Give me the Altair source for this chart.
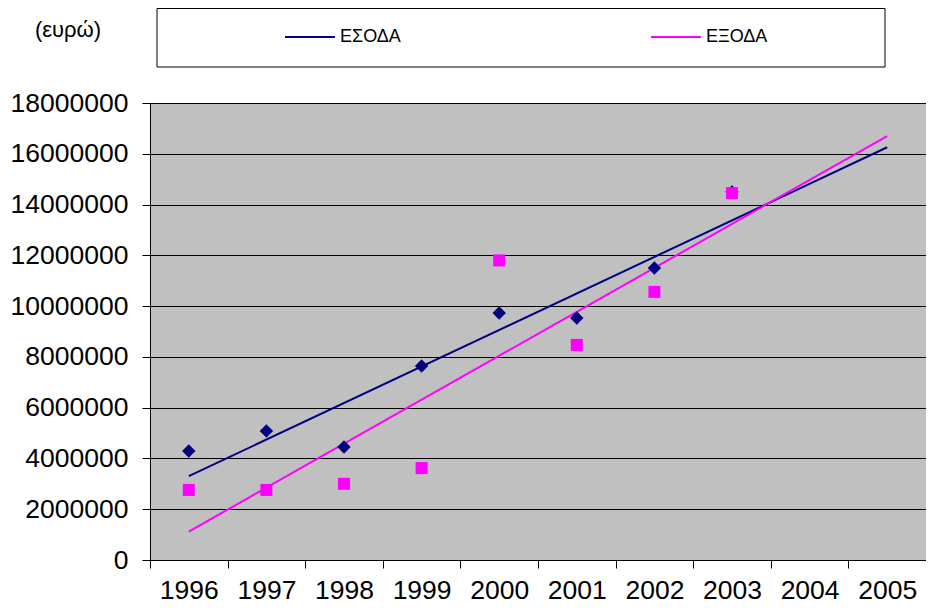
import altair as alt
import pandas as pd

years = [1996, 1997, 1998, 1999, 2000, 2001, 2002, 2003]
esoda = [4290000, 5080000, 4450000, 7640000, 9730000, 9530000, 11500000, 14500000]
exoda = [2760000, 2760000, 3000000, 3620000, 11800000, 8470000, 10560000, 14450000]
series_names = ["ΕΣΟΔΑ", "ΕΞΟΔΑ"]
series_colors = ["#000080", "#FF00FF"]
x_ticks = [1995.5 + i for i in range(11)]
y_ticks = [i * 2000000 for i in range(10)]

df = pd.DataFrame(
    {"year": years * 2,
     "value": esoda + exoda,
     "series": [series_names[0]] * len(years) + [series_names[1]] * len(years)}
)

FONT = "Liberation Sans"
W = 776
BAND = W / 10

x_enc = alt.X(
    "year:Q",
    scale=alt.Scale(domain=[1995.5, 2005.5], nice=False, zero=False),
    axis=alt.Axis(
        title=None, values=x_ticks, grid=False,
        labelExpr="datum.value < 2005 ? toString(datum.value + 0.5) : ''",
        labelOffset=BAND / 2, labelFlush=False, labelOverlap=False, labelBound=False,
        labelFont=FONT, labelFontSize=26.5, labelColor="#000000",
        labelBaseline="alphabetic", labelPadding=30,
        tickSize=8, tickColor="#000000", domainColor="#000000",
    ),
)
y_enc = alt.Y(
    "value:Q",
    scale=alt.Scale(domain=[0, 18000000], nice=False),
    axis=alt.Axis(
        title=None, values=y_ticks, format="d", grid=True,
        gridColor="#000000", gridWidth=1,
        labelFont=FONT, labelFontSize=26.5, labelColor="#000000",
        labelPadding=14, labelFlush=False, labelOverlap=False,
        tickSize=8, tickColor="#000000", domainColor="#000000",
    ),
)

box = alt.Chart(alt.Data(values=[{}])).mark_rect(
    fill="#FFFFFF", stroke="#000000", strokeWidth=1
).encode(x=alt.value(7), x2=alt.value(735), y=alt.value(-94.5), y2=alt.value(-36))

unit = alt.Chart(alt.Data(values=[{}])).mark_text(
    text="(ευρώ)", font=FONT, fontSize=22, color="#000000",
    align="center", baseline="middle"
).encode(x=alt.value(-82), y=alt.value(-73))

trend = alt.Chart(df).transform_regression(
    "year", "value", groupby=["series"], extent=[1996, 2005]
).mark_line(strokeWidth=2).encode(
    x=x_enc, y=y_enc,
    color=alt.Color(
        "series:N",
        scale=alt.Scale(domain=series_names, range=series_colors),
        legend=alt.Legend(
            title=None, orient="none", legendX=134, legendY=-92,
            direction="horizontal", symbolType="stroke", symbolSize=2500,
            symbolStrokeWidth=2, labelFont=FONT, labelFontSize=18,
            labelColor="#000000", labelOffset=4, columnPadding=246, padding=0,
        ),
    ),
)

pts_in = alt.Chart(df).transform_filter(
    alt.datum.series == series_names[0]
).mark_point(filled=True, shape="diamond", size=180, color=series_colors[0], opacity=1).encode(
    x=x_enc, y=y_enc
)
pts_out = alt.Chart(df).transform_filter(
    alt.datum.series == series_names[1]
).mark_point(filled=True, shape="square", size=144, color=series_colors[1], opacity=1).encode(
    x=x_enc, y=y_enc
)

chart = alt.layer(box, unit, trend, pts_in, pts_out).properties(
    width=W, height=457,
    autosize=alt.AutoSizeParams(type="none"),
    padding={"left": 142, "top": 95, "right": 0, "bottom": 45},
).configure_view(fill="#C0C0C0", stroke="#808080")

chart.save("out.html", embed_options={"renderer": "svg", "actions": False})
